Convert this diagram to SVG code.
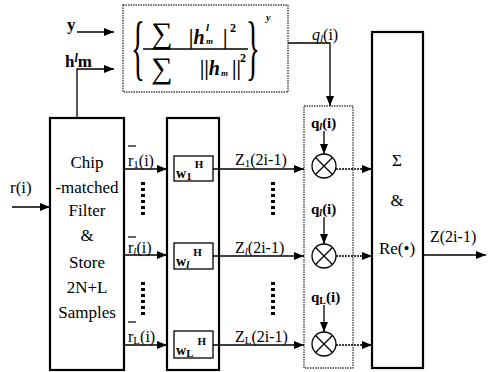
<svg xmlns="http://www.w3.org/2000/svg" width="489" height="372" viewBox="0 0 489 372" font-size="17">
<defs>
<marker id="ah" markerWidth="10" markerHeight="8" refX="10" refY="4" orient="auto" markerUnits="userSpaceOnUse">
<path d="M0,0 L10,4 L0,8 Z" fill="#000"/>
</marker>
<style>
text{font-family:"Liberation Serif","Times New Roman",serif;fill:#000}
.b{font-weight:bold}
.box{fill:none;stroke:#000;stroke-width:2.2}
.dbox{fill:none;stroke:#444;stroke-width:1.4;stroke-dasharray:1.5 1}
.sbox{fill:#fff;stroke:#000;stroke-width:1.3}
.ln{fill:none;stroke:#000;stroke-width:1.3}
.dl{fill:none;stroke:#000;stroke-width:4;stroke-dasharray:3 3}
.c{text-anchor:middle}
</style>
</defs>
<rect width="489" height="372" fill="#fff"/>

<g id="formula">
<rect class="dbox" x="123" y="5" width="165" height="87"/>
<text x="138" y="71" transform="translate(138,48) scale(0.4,1) translate(-138,-48)" font-size="72" class="c">{</text>
<text x="253" y="71" transform="translate(253,48) scale(0.4,1) translate(-253,-48)" font-size="72" class="c">}</text>
<text x="162" y="43" font-size="30" class="c">∑</text>
<text x="189" y="44" font-size="20" font-style="italic" class="b">|h</text>
<text x="206" y="31" font-size="11" font-style="italic" class="b">l</text>
<text x="206" y="44" font-size="9" font-style="italic" class="b">m</text>
<text x="223" y="44" font-size="20" class="b">|</text>
<text x="230" y="32" font-size="12" class="b">2</text>
<line x1="143" y1="49" x2="248" y2="49" stroke="#000" stroke-width="1.4"/>
<text x="162" y="78" font-size="30" class="c">∑</text>
<text x="200" y="75" font-size="20" font-style="italic" class="b">||h</text>
<text x="221" y="76" font-size="9" font-style="italic" class="b">m</text>
<text x="232" y="75" font-size="20" class="b">||</text>
<text x="240" y="62" font-size="12" class="b">2</text>
<text x="266" y="21" font-size="10" font-style="italic" class="b">y</text>
</g>

<g id="chip">
<rect class="box" x="50" y="118" width="74" height="252"/>
<text x="87" y="168" class="c">Chip</text>
<text x="87" y="193" class="c">-matched</text>
<text x="87" y="216" class="c">Filter</text>
<text x="87" y="241" class="c">&amp;</text>
<text x="87" y="268" class="c">Store</text>
<text x="87" y="293" class="c">2N+L</text>
<text x="87" y="318" class="c">Samples</text>
</g>

<g id="weights">
<rect class="box" x="167" y="118" width="52" height="252"/>
<g id="w1"><rect class="sbox" x="174" y="156" width="39" height="25"/>
<text x="176" y="178" class="b" font-size="14">w<tspan font-size="11" dy="2">1</tspan><tspan font-size="11" dy="-12" dx="3">H</tspan></text></g>
<g id="wl"><rect class="sbox" x="174" y="243" width="39" height="26"/>
<text x="176" y="266" class="b" font-size="14">w<tspan font-size="11" dy="2" font-style="italic">l</tspan><tspan font-size="11" dy="-12" dx="4">H</tspan></text></g>
<g id="wL"><rect class="sbox" x="174" y="331" width="39" height="27"/>
<text x="176" y="355" class="b" font-size="14">w<tspan font-size="11" dy="2">L</tspan><tspan font-size="11" dy="-12" dx="4">H</tspan></text></g>
</g>

<g id="mult">
<rect class="dbox" x="304" y="106" width="49" height="262"/>
<circle class="ln" cx="324" cy="166" r="12" stroke-width="1.6"/>
<path class="ln" d="M315.5,157.5 L332.5,174.5 M332.5,157.5 L315.5,174.5" stroke-width="1.6"/>
<circle class="ln" cx="324" cy="256" r="12" stroke-width="1.6"/>
<path class="ln" d="M315.5,247.5 L332.5,264.5 M332.5,247.5 L315.5,264.5" stroke-width="1.6"/>
<circle class="ln" cx="324" cy="344" r="12" stroke-width="1.6"/>
<path class="ln" d="M315.5,335.5 L332.5,352.5 M332.5,335.5 L315.5,352.5" stroke-width="1.6"/>
<text x="311" y="128" class="b" font-size="15">q<tspan font-size="10" dy="2" font-style="italic">l</tspan><tspan dy="-2">(i)</tspan></text>
<text x="311" y="214" class="b" font-size="15">q<tspan font-size="10" dy="2" font-style="italic">l</tspan><tspan dy="-2">(i)</tspan></text>
<text x="311" y="302" class="b" font-size="15">q<tspan font-size="10" dy="2">L</tspan><tspan dy="-2">(i)</tspan></text>
</g>

<g id="sum">
<rect class="box" x="372" y="32" width="51" height="336"/>
<text x="397" y="166" class="c">Σ</text>
<text x="397" y="206" class="c">&amp;</text>
<text x="397" y="254" class="c">Re(•)</text>
</g>

<g id="connectors">
<line class="ln" x1="77" y1="32" x2="114" y2="32" marker-end="url(#ah)"/>
<polyline class="ln" points="77,118 77,69 114,69" marker-end="url(#ah)"/>
<polyline class="ln" points="288,43 330,43 330,106" marker-end="url(#ah)"/>
<line class="ln" x1="12" y1="207" x2="50" y2="207" marker-end="url(#ah)"/>
<line class="ln" x1="124" y1="169" x2="167" y2="169" marker-end="url(#ah)"/>
<line class="ln" x1="124" y1="255" x2="167" y2="255" marker-end="url(#ah)"/>
<line class="ln" x1="124" y1="345" x2="167" y2="345" marker-end="url(#ah)"/>
<line class="ln" x1="213" y1="169" x2="304" y2="169" marker-end="url(#ah)"/>
<line class="ln" x1="213" y1="256" x2="304" y2="256" marker-end="url(#ah)"/>
<line class="ln" x1="213" y1="345" x2="304" y2="345" marker-end="url(#ah)"/>
<line class="ln" x1="336" y1="169" x2="372" y2="169" marker-end="url(#ah)" stroke-dasharray="2 1"/>
<line class="ln" x1="336" y1="256" x2="372" y2="256" marker-end="url(#ah)" stroke-dasharray="2 1"/>
<line class="ln" x1="336" y1="345" x2="372" y2="345" marker-end="url(#ah)" stroke-dasharray="2 1"/>
<line class="ln" x1="324" y1="131" x2="324" y2="154" marker-end="url(#ah)"/>
<line class="ln" x1="324" y1="217" x2="324" y2="244" marker-end="url(#ah)"/>
<line class="ln" x1="324" y1="305" x2="324" y2="332" marker-end="url(#ah)"/>
<line class="ln" x1="423" y1="255" x2="486" y2="255" marker-end="url(#ah)"/>
<line class="dl" x1="143" y1="182" x2="143" y2="218"/>
<line class="dl" x1="143" y1="282" x2="143" y2="318"/>
<line class="dl" x1="273" y1="182" x2="273" y2="216"/>
<line class="dl" x1="273" y1="282" x2="273" y2="316"/>
</g>

<g id="labels">
<text x="67" y="30" class="b">y</text>
<text x="65" y="67" class="b">h<tspan font-size="12" font-style="italic" dy="-5">l</tspan><tspan dy="5">m</tspan></text>
<text x="312" y="40" font-size="16" font-style="italic">q<tspan font-size="11" dy="2">l</tspan><tspan dy="-2" font-style="normal">(i)</tspan></text>
<text x="10" y="193">r(i)</text>
<line x1="128" y1="146" x2="136" y2="146" stroke="#000" stroke-width="1.2"/>
<text x="128" y="166" font-size="16">r<tspan font-size="11" dy="2">1</tspan><tspan dy="-2">(i)</tspan></text>
<line x1="128" y1="237" x2="136" y2="237" stroke="#000" stroke-width="1.2"/>
<text x="128" y="253" font-size="16">r<tspan font-size="11" dy="2" font-style="italic">l</tspan><tspan dy="-2">(i)</tspan></text>
<line x1="128" y1="322" x2="136" y2="322" stroke="#000" stroke-width="1.2"/>
<text x="128" y="342" font-size="16">r<tspan font-size="11" dy="2">L</tspan><tspan dy="-2">(i)</tspan></text>
<text x="235" y="165" font-size="16">Z<tspan font-size="11" dy="2">1</tspan><tspan dy="-2">(2i-1)</tspan></text>
<text x="235" y="253" font-size="16">Z<tspan font-size="11" dy="2" font-style="italic">l</tspan><tspan dy="-2">(2i-1)</tspan></text>
<text x="235" y="342" font-size="16">Z<tspan font-size="11" dy="2">L</tspan><tspan dy="-2">(2i-1)</tspan></text>
<text x="430" y="242" font-size="16">Z(2i-1)</text>
</g>
</svg>
